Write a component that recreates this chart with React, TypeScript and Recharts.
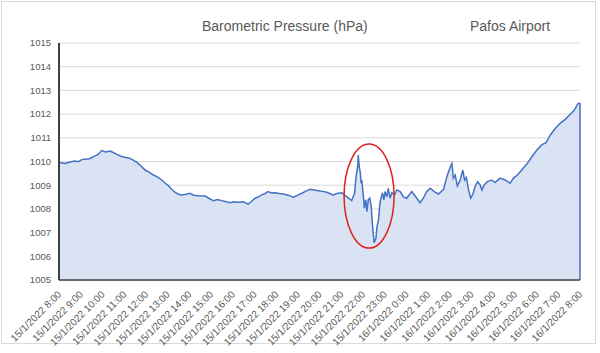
import React from 'react'
import {
  Area,
  AreaChart,
  CartesianGrid,
  ReferenceDot,
  ReferenceLine,
  XAxis,
  YAxis,
} from 'recharts'

// minutes since 15/1/2022 8:00
const minutes = [
  0, 17, 30, 44, 54, 63, 72, 84, 100, 108, 118, 129, 141, 150, 160, 171, 182, 195, 205, 216,
  224, 238, 249, 261, 273, 284, 294, 302, 312, 321, 330, 339, 351, 362, 372, 385, 404, 414,
  427, 438, 450, 462, 473, 483, 496, 509, 523, 531, 542, 552, 560, 570, 577, 588, 597, 609,
  620, 633, 648, 660, 671, 684, 694, 705, 717, 729, 740, 750, 758, 768, 782, 796, 809, 817,
  821, 826, 827, 830, 833, 835, 837, 841, 844, 848, 851, 855, 859, 863, 866, 871, 876, 879,
  883, 887, 890, 894, 898, 901, 906, 910, 915, 920, 927, 934, 943, 952, 961, 975, 989, 998,
  1007, 1016, 1026, 1037, 1049, 1063, 1072, 1081, 1086, 1090, 1095, 1101, 1109, 1116, 1121,
  1126, 1132, 1138, 1144, 1150, 1157, 1164, 1169, 1175, 1184, 1196, 1205, 1219, 1233, 1247,
  1256, 1267, 1279, 1293, 1307, 1321, 1334, 1346, 1358, 1372, 1385, 1399, 1411, 1423, 1434,
  1440,
]

const pressure = [
  1009.96, 1009.92, 1009.98, 1010.02, 1009.99, 1010.08, 1010.1, 1010.12, 1010.24, 1010.3,
  1010.46, 1010.4, 1010.44, 1010.38, 1010.3, 1010.22, 1010.18, 1010.14, 1010.06, 1009.95,
  1009.85, 1009.64, 1009.55, 1009.43, 1009.34, 1009.22, 1009.08, 1008.98, 1008.82, 1008.7,
  1008.62, 1008.59, 1008.62, 1008.66, 1008.58, 1008.56, 1008.54, 1008.45, 1008.35, 1008.4,
  1008.35, 1008.3, 1008.26, 1008.3, 1008.28, 1008.3, 1008.2, 1008.3, 1008.45, 1008.52,
  1008.59, 1008.65, 1008.73, 1008.67, 1008.68, 1008.65, 1008.63, 1008.58, 1008.49, 1008.58,
  1008.66, 1008.76, 1008.83, 1008.8, 1008.77, 1008.74, 1008.7, 1008.64, 1008.59, 1008.65,
  1008.68, 1008.51, 1008.35, 1008.66, 1009.36, 1009.85, 1010.27, 1009.78, 1009.5, 1009.08,
  1009.22, 1008.59, 1008.03, 1008.38, 1007.88, 1008.4, 1008.45, 1008.09, 1007.39, 1006.57,
  1006.76, 1007.25, 1007.53, 1008.24, 1008.45, 1008.68, 1008.38, 1008.73, 1008.51, 1008.87,
  1008.45, 1008.68, 1008.59, 1008.8, 1008.73, 1008.51, 1008.45, 1008.73, 1008.45, 1008.26,
  1008.45, 1008.73, 1008.87, 1008.73, 1008.63, 1008.83, 1009.36, 1009.76, 1009.92, 1009.3,
  1009.43, 1008.97, 1009.22, 1009.64, 1009.22, 1009.33, 1008.8, 1008.45, 1008.63, 1008.94,
  1009.15, 1009.01, 1008.8, 1009.01, 1009.15, 1009.22, 1009.11, 1009.3, 1009.22, 1009.08,
  1009.3, 1009.43, 1009.64, 1009.89, 1010.2, 1010.49, 1010.7, 1010.79, 1011.12, 1011.4,
  1011.61, 1011.78, 1011.96, 1012.14, 1012.43, 1012.47,
]

const tickLabels = [
  '15/1/2022 8:00', '15/1/2022 9:00', '15/1/2022 10:00', '15/1/2022 11:00',
  '15/1/2022 12:00', '15/1/2022 13:00', '15/1/2022 14:00', '15/1/2022 15:00',
  '15/1/2022 16:00', '15/1/2022 17:00', '15/1/2022 18:00', '15/1/2022 19:00',
  '15/1/2022 20:00', '15/1/2022 21:00', '15/1/2022 22:00', '15/1/2022 23:00',
  '16/1/2022 0:00', '16/1/2022 1:00', '16/1/2022 2:00', '16/1/2022 3:00',
  '16/1/2022 4:00', '16/1/2022 5:00', '16/1/2022 6:00', '16/1/2022 7:00',
  '16/1/2022 8:00',
]

const yTicks = [1005, 1006, 1007, 1008, 1009, 1010, 1011, 1012, 1013, 1014, 1015]

// circled disturbance
const markCenter = { minute: 857, value: 1008.54 }

const FONT = '"Liberation Sans", Arial, sans-serif'
const TEXT = '#595959'

function XTick(props: any) {
  const { x, y, index } = props
  const tx = x + 3
  const ty = y + 7
  return (
    <text
      x={tx}
      y={ty}
      transform={`rotate(-45 ${tx} ${ty})`}
      textAnchor="end"
      fontSize={10}
      fontFamily={FONT}
      fill={TEXT}
    >
      {tickLabels[index]}
    </text>
  )
}

function Ring(props: any) {
  return (
    <ellipse
      cx={props.cx}
      cy={props.cy}
      rx={25}
      ry={52}
      fill="none"
      stroke="#e0201c"
      strokeWidth={1.5}
    />
  )
}

export default function App() {
  const data = minutes.map((m, i) => ({ t: m, p: pressure[i] }))
  const last = data[data.length - 1]

  return (
    <div
      style={{
        position: 'absolute',
        left: 0,
        top: 0,
        width: 600,
        height: 353,
        background: '#fff',
        fontFamily: FONT,
      }}
    >
      <div
        style={{
          position: 'absolute',
          left: 1,
          top: 1,
          width: 595,
          height: 343,
          border: '1px solid #d9d9d9',
          boxSizing: 'border-box',
        }}
      />
      <div style={{ position: 'absolute', left: 202, top: 18, fontSize: 14, color: TEXT, lineHeight: '16px' }}>
        Barometric Pressure (hPa)
      </div>
      <div style={{ position: 'absolute', left: 470, top: 18, fontSize: 14, color: TEXT, lineHeight: '16px' }}>
        Pafos Airport
      </div>
      <AreaChart
        width={600}
        height={353}
        data={data}
        margin={{ top: 43, right: 20, left: 0, bottom: 0 }}
        style={{ position: 'absolute', left: 0, top: 0 }}
      >
        <CartesianGrid vertical={false} stroke="#d9d9d9" />
        <XAxis
          dataKey="t"
          type="number"
          domain={[0, 1440]}
          ticks={tickLabels.map((_, i) => i * 60)}
          interval={0}
          tick={<XTick />}
          tickLine={false}
          axisLine={{ stroke: '#404040', strokeWidth: 1.5 }}
          height={73}
        />
        <YAxis
          type="number"
          domain={[1005, 1015]}
          ticks={yTicks}
          interval={0}
          tickLine={false}
          axisLine={{ stroke: '#404040', strokeWidth: 2 }}
          tick={{ fontSize: 9.5, fill: TEXT, fontFamily: FONT }}
          width={59}
        />
        <Area
          type="linear"
          dataKey="p"
          stroke="#4472c4"
          strokeWidth={1.5}
          fill="#dae3f3"
          fillOpacity={1}
          isAnimationActive={false}
          dot={false}
          activeDot={false}
        />
        <ReferenceLine
          segment={[
            { x: last.t, y: 1005 },
            { x: last.t, y: last.p },
          ]}
          stroke="#4472c4"
          strokeWidth={1.5}
        />
        <ReferenceDot x={markCenter.minute} y={markCenter.value} shape={<Ring />} />
      </AreaChart>
    </div>
  )
}
